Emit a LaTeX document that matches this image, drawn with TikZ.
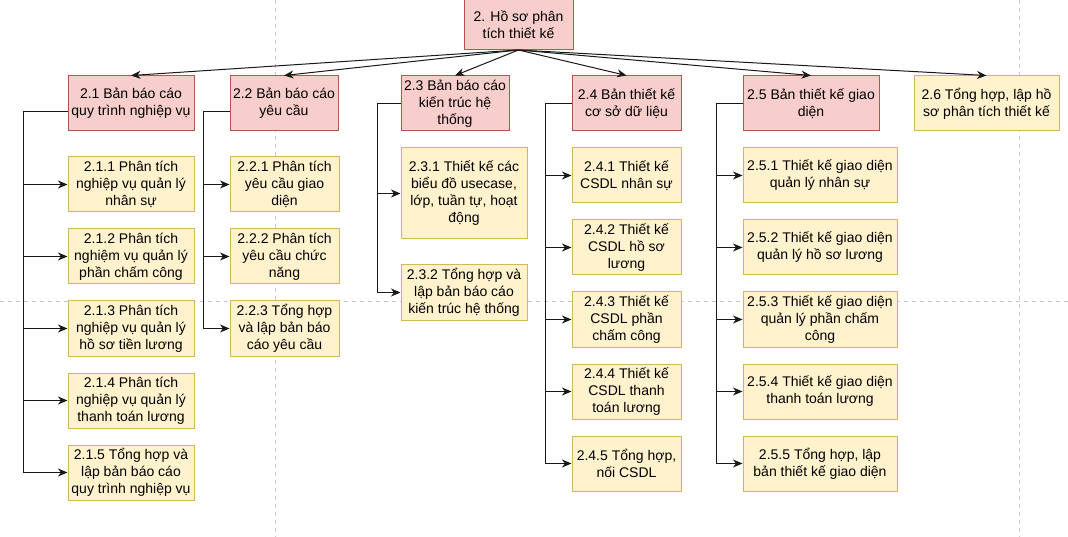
\documentclass[tikz,border=0pt]{standalone}
\usepackage{fontspec}
\setmainfont{Liberation Sans}
\usepackage{tikz}
\usetikzlibrary{calc}
\usetikzlibrary{arrows.meta}
\tikzset{>={Stealth[length=9.5pt,width=8pt,inset=3pt]}}
\definecolor{redfill}{HTML}{F8CECC}
\definecolor{redline}{HTML}{B85450}
\definecolor{yelfill}{HTML}{FFF2CC}
\definecolor{yelline}{HTML}{D6B656}
\colorlet{pagegray}{black!22}
\tikzset{
  box/.style={draw, line width=1pt, align=center, inner sep=1pt,
    font=\fontsize{14}{17}\selectfont},
  redbox/.style={box, fill=redfill, draw=redline},
  yelbox/.style={box, fill=yelfill, draw=yelline},
  link/.style={line width=1pt, black!90},
}

\begin{document}
\begin{tikzpicture}[x=1pt, y=-1pt]
                \useasboundingbox (0,0) rectangle (1068,537);

                % Page breaks
                \draw[pagegray, dashed, dash pattern=on 4pt off 4pt] (275,0) -- (275,537);
                \draw[pagegray, dashed, dash pattern=on 4pt off 4pt] (1019,0) -- (1019,537);
                \draw[pagegray, dashed, dash pattern=on 4pt off 4pt] (0,301) -- (1068,301);

                % Root and first level
                \node[redbox, minimum width=109pt, minimum height=50pt] (N2) at (518.5,24.5) {2. Hồ sơ phân\\tích thiết kế};
                \node[redbox, minimum width=126pt, minimum height=55pt] (N21) at (131,103.5) {2.1 Bản báo cáo\\quy trình nghiệp vụ};
                \node[redbox, minimum width=108pt, minimum height=55pt] (N22) at (284,103.5) {2.2 Bản báo cáo\\yêu cầu};
                \node[redbox, minimum width=108pt, minimum height=55pt] (N23) at (455,103.5) {2.3 Bản báo cáo\\kiến trúc hệ\\thống};
                \node[redbox, minimum width=109pt, minimum height=55pt] (N24) at (626.5,103.5) {2.4 Bản thiết kế\\cơ sở dữ liệu};
                \node[redbox, minimum width=136pt, minimum height=55pt] (N25) at (811,103.5) {2.5 Bản thiết kế giao\\diện};
                \node[yelbox, minimum width=145pt, minimum height=55pt] (N26) at (986.5,103.5) {2.6 Tổng hợp, lập hồ\\sơ phân tích thiết kế};

                % Tasks of 2.1
                \node[yelbox, minimum width=126pt, minimum height=55pt] (N211) at (131,184.5) {2.1.1 Phân tích\\nghiệp vụ quản lý\\nhân sự};
                \node[yelbox, minimum width=126pt, minimum height=55pt] (N212) at (131,256.5) {2.1.2 Phân tích\\nghiệm vụ quản lý\\phần chấm công};
                \node[yelbox, minimum width=126pt, minimum height=55pt] (N213) at (131,328.5) {2.1.3 Phân tích\\nghiệp vụ quản lý\\hồ sơ tiền lương};
                \node[yelbox, minimum width=126pt, minimum height=55pt] (N214) at (131,400.5) {2.1.4 Phân tích\\nghiệp vụ quản lý\\thanh toán lương};
                \node[yelbox, minimum width=126pt, minimum height=55pt] (N215) at (131,472.5) {2.1.5 Tổng hợp và\\lập bản báo cáo\\quy trình nghiệp vụ};

                % Tasks of 2.2
                \node[yelbox, minimum width=109pt, minimum height=55pt] (N221) at (284.5,184.5) {2.2.1 Phân tích\\yêu cầu giao\\diện};
                \node[yelbox, minimum width=109pt, minimum height=55pt] (N222) at (284.5,256.5) {2.2.2 Phân tích\\yêu cầu chức\\năng};
                \node[yelbox, minimum width=109pt, minimum height=55pt] (N223) at (284.5,328.5) {2.2.3 Tổng hợp\\và lập bản báo\\cáo yêu cầu};

                % Tasks of 2.3
                \node[yelbox, minimum width=126pt, minimum height=91pt] (N231) at (464,193.5) {2.3.1 Thiết kế các\\biểu đồ usecase,\\lớp, tuần tự, hoạt\\động};
                \node[yelbox, minimum width=126pt, minimum height=55pt] (N232) at (464,292.5) {2.3.2 Tổng hợp và\\lập bản báo cáo\\kiến trúc hệ thống};

                % Tasks of 2.4
                \node[yelbox, minimum width=109pt, minimum height=55pt] (N241) at (626.5,175.5) {2.4.1 Thiết kế\\CSDL nhân sự};
                \node[yelbox, minimum width=109pt, minimum height=55pt] (N242) at (626.5,247.5) {2.4.2 Thiết kế\\CSDL hồ sơ\\lương};
                \node[yelbox, minimum width=109pt, minimum height=55pt] (N243) at (626.5,319.5) {2.4.3 Thiết kế\\CSDL phần\\chấm công};
                \node[yelbox, minimum width=109pt, minimum height=55pt] (N244) at (626.5,391.5) {2.4.4 Thiết kế\\CSDL thanh\\toán lương};
                \node[yelbox, minimum width=109pt, minimum height=55pt] (N245) at (626.5,463.5) {2.4.5 Tổng hợp,\\nối CSDL};

                % Tasks of 2.5
                \node[yelbox, minimum width=154pt, minimum height=55pt] (N251) at (820,175.5) {2.5.1 Thiết kế giao diện\\quản lý nhân sự};
                \node[yelbox, minimum width=154pt, minimum height=55pt] (N252) at (820,247.5) {2.5.2 Thiết kế giao diện\\quản lý hồ sơ lương};
                \node[yelbox, minimum width=154pt, minimum height=55pt] (N253) at (820,319.5) {2.5.3 Thiết kế giao diện\\quản lý phần chấm\\công};
                \node[yelbox, minimum width=154pt, minimum height=55pt] (N254) at (820,391.5) {2.5.4 Thiết kế giao diện\\thanh toán lương};
                \node[yelbox, minimum width=154pt, minimum height=55pt] (N255) at (820,463.5) {2.5.5 Tổng hợp, lập\\bản thiết kế giao diện};

                % Root to first level
                \draw[link, ->] (N2.south) -- (N21.north);
                \draw[link, ->] (N2.south) -- (N22.north);
                \draw[link, ->] (N2.south) -- (N23.north);
                \draw[link, ->] (N2.south) -- (N24.north);
                \draw[link, ->] (N2.south) -- (N25.north);
                \draw[link, ->] (N2.south) -- (N26.north);

                % Trunks
                \coordinate (T21) at (23,112);
                \coordinate (T22) at (203,112);
                \coordinate (T23) at (377,103.5);
                \coordinate (T24) at (545,103.5);
                \coordinate (T25) at (716,103.5);

                % Connect 2.1 to its tasks
                \draw[link, ->] (N21.west |- T21) -- (T21) |- (N211.west);
                \draw[link, ->] (T21) |- (N212.west);
                \draw[link, ->] (T21) |- (N213.west);
                \draw[link, ->] (T21) |- (N214.west);
                \draw[link, ->] (T21) |- (N215.west);

                % Connect 2.2 to its tasks
                \draw[link, ->] (N22.west |- T22) -- (T22) |- (N221.west);
                \draw[link, ->] (T22) |- (N222.west);
                \draw[link, ->] (T22) |- (N223.west);

                % Connect 2.3 to its tasks
                \draw[link, ->] (N23.west) -- (T23) |- (N231.west);
                \draw[link, ->] (T23) |- (N232.west);

                % Connect 2.4 to its tasks
                \draw[link, ->] (N24.west) -- (T24) |- (N241.west);
                \draw[link, ->] (T24) |- (N242.west);
                \draw[link, ->] (T24) |- (N243.west);
                \draw[link, ->] (T24) |- (N244.west);
                \draw[link, ->] (T24) |- (N245.west);

                % Connect 2.5 to its tasks
                \draw[link, ->] (N25.west) -- (T25) |- (N251.west);
                \draw[link, ->] (T25) |- (N252.west);
                \draw[link, ->] (T25) |- (N253.west);
                \draw[link, ->] (T25) |- (N254.west);
                \draw[link, ->] (T25) |- (N255.west);
            \end{tikzpicture}
\end{document}
